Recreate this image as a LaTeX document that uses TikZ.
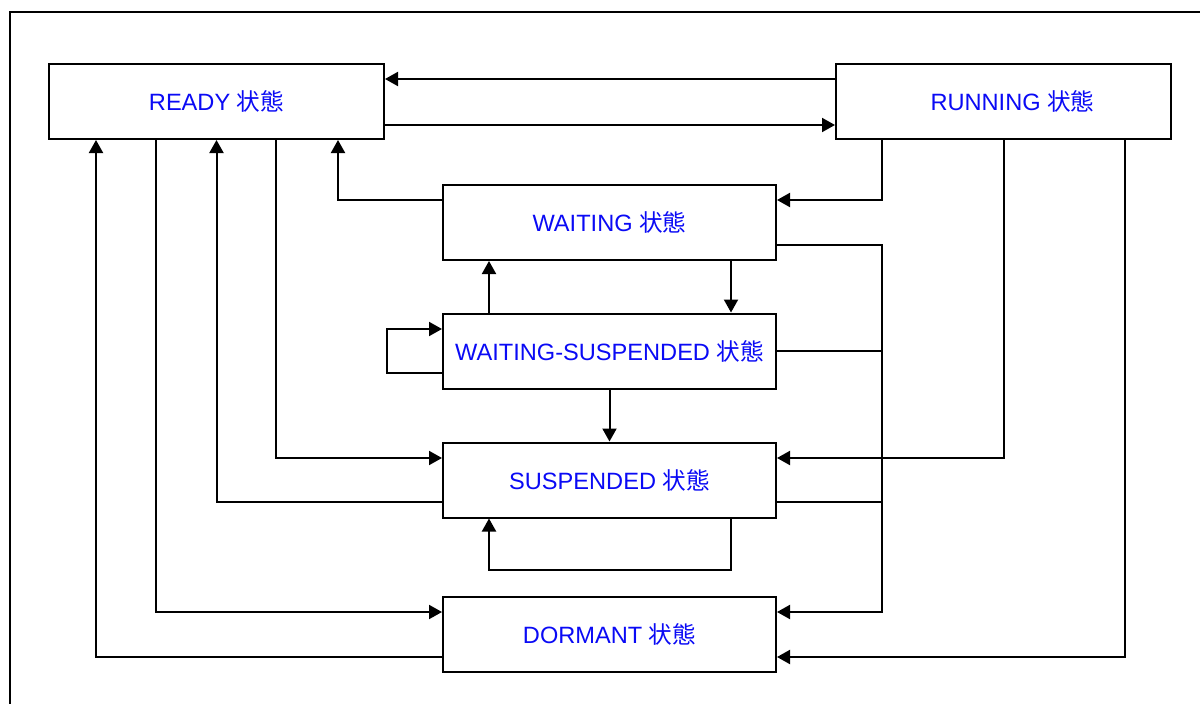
\documentclass[tikz,border=0pt]{standalone}
\usepackage{fontspec}
\setmainfont{Liberation Sans}
\newfontfamily\cjk{Noto Sans CJK JP}
\usetikzlibrary{arrows.meta}
\definecolor{txtblue}{RGB}{10,10,245}
\begin{document}
\begin{tikzpicture}[x=1pt,y=-1pt,
  statebox/.style={draw,line width=2pt,minimum height=75pt,inner sep=0pt,
    text=txtblue,font=\fontsize{23.6}{28}\selectfont},
  wide/.style={minimum width=335pt},
  mid/.style={minimum width=333pt},
  conn/.style={line width=2pt},
  arr/.style={conn,-{Triangle[length=13pt,width=14pt]}}]
\useasboundingbox (0,0) rectangle (1200,704);
\draw[conn] (1200,12) -- (10,12) -- (10,704);
% states
\node[statebox,wide] (ready) at (216.5,101.5) {READY {\cjk 状態}};
\node[statebox,wide] (running) at (1003.5,101.5) {\hspace*{18pt}RUNNING {\cjk 状態}};
\node[statebox,mid] (waiting) at (609.5,222.5) {WAITING {\cjk 状態}};
\node[statebox,mid] (ws) at (609.5,351) {WAITING-SUSPENDED {\cjk 状態}};
\node[statebox,mid] (susp) at (609.5,480) {SUSPENDED {\cjk 状態}};
\node[statebox,mid] (dorm) at (609.5,634.5) {DORMANT {\cjk 状態}};
% helper levels
\coordinate (y79) at (0,79);
\coordinate (y125) at (0,125);
\coordinate (y200) at (0,200);
\coordinate (y245) at (0,245);
\coordinate (y329) at (0,329);
\coordinate (y351) at (0,351);
\coordinate (y373) at (0,373);
\coordinate (y458) at (0,458);
\coordinate (y502) at (0,502);
\coordinate (y570) at (0,570);
\coordinate (y612) at (0,612);
\coordinate (y657) at (0,657);
\coordinate (x96) at (96,0);
\coordinate (x156) at (156,0);
\coordinate (x276) at (276,0);
\coordinate (x338) at (338,0);
\coordinate (x387) at (387,0);
\coordinate (x489) at (489,0);
\coordinate (x731) at (731,0);
\coordinate (x882) at (882,0);
\coordinate (x1125) at (1125,0);
% connectors
\draw[arr] (running.west |- y79) -- (ready.east |- y79);
\draw[arr] (ready.east |- y125) -- (running.west |- y125);
\draw[arr] (x882 |- running.south) |- (waiting.east |- y200);
\draw[arr] (waiting.west |- y200) -| (x338 |- ready.south);
\draw[arr] (x731 |- waiting.south) -- (x731 |- ws.north);
\draw[arr] (x489 |- ws.north) -- (x489 |- waiting.south);
\draw[arr] (ws.west |- y373) -| (x387 |- y329) -- (ws.west |- y329);
\draw[arr] (ws.south) -- (susp.north);
\draw[arr] (x276 |- ready.south) |- (susp.west |- y458);
\draw[arr] (susp.west |- y502) -| (ready.south);
\draw[arr] (running.south) |- (susp.east |- y458);
\draw[arr] (x731 |- susp.south) |- (x489 |- y570) -- (x489 |- susp.south);
\draw[arr] (x156 |- ready.south) |- (dorm.west |- y612);
\draw[arr] (dorm.west |- y657) -| (x96 |- ready.south);
\draw[arr] (x1125 |- running.south) |- (dorm.east |- y657);
\draw[arr] (waiting.east |- y245) -| (x882 |- y612) -- (dorm.east |- y612);
\draw[conn] (ws.east |- y351) -- (x882 |- y351);
\draw[conn] (susp.east |- y502) -- (x882 |- y502);
\end{tikzpicture}
\end{document}
